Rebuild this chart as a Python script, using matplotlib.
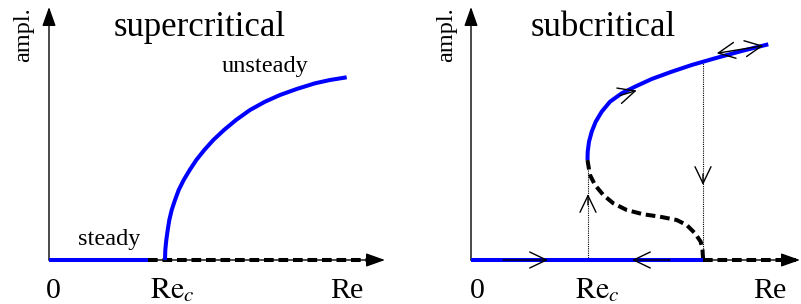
import matplotlib
matplotlib.use("Agg")
import matplotlib.pyplot as plt

plt.rcParams['font.family'] = ['Liberation Serif', 'DejaVu Serif']
plt.rcParams['mathtext.fontset'] = 'stix'

# ---------------- data (panel units: origin at axes crossing) ----------------
# supercritical panel
sup_steady_x = [0, 99]
sup_steady_y = [0, 0]
sup_unstable_x = [99, 331]
sup_unstable_y = [0, 0]
sup_branch_x = [116, 116.3, 117.3, 118.7, 120.3, 122.7, 126, 129.7, 134.7, 140.7, 147.3,
                155.3, 164.3, 175, 187, 201, 216, 231, 247.7, 266, 281, 297.7]
sup_branch_y = [0, 10, 20, 30, 40, 50, 60, 70, 80, 90, 100,
                110, 120, 130, 140, 150, 158.3, 165, 171, 176.7, 180, 182.7]

# subcritical panel
sub_steady_x = [0, 232]
sub_steady_y = [0, 0]
sub_unstable_base_x = [232, 325]
sub_unstable_base_y = [0, 0]
sub_upper_x = [116.5, 116.7, 118, 120.7, 124.7, 130.7, 139, 150.7, 164, 180.7, 200.7,
               220.7, 244, 270.7, 297.3]
sub_upper_y = [100, 108.3, 118.3, 128.3, 138.3, 148.3, 158.3, 166.7, 173.3, 181, 188.3,
               195, 201.7, 209, 215.7]
sub_lower_x = [116.5, 117.3, 119, 124, 132.3, 142.3, 155.7, 172.3, 189, 205.7, 215.7,
               224, 229.7, 231.5, 232, 232]
sub_lower_y = [100, 95, 85, 75, 65, 56.7, 50, 45.7, 43.3, 40, 35,
               26.7, 18.3, 10, 2, 0]
sub_jump_up_x = 117
sub_jump_up_top = 90
sub_jump_down_x = 232
sub_jump_down_top = 197

titles = ["supercritical", "subcritical"]
xlabels = ["0", r"$\mathrm{Re}_c$", "Re"]

BLUE = "#0000ff"

fig = plt.figure(figsize=(8.01, 3.04), dpi=100)
ax1 = fig.add_axes([0, 0, 1, 1])
ax2 = fig.add_axes([0, 0, 1, 1])
ax1.set_xlim(-49, 801 - 49)
ax1.set_ylim(-44, 260)
ax2.set_xlim(-471, 801 - 471)
ax2.set_ylim(-44, 260)
for ax in (ax1, ax2):
    ax.axis('off')
    ax.patch.set_alpha(0)


def axis_arrows(ax, xtip, ytip):
    style = '-|>,head_length=0.9,head_width=0.32'
    for tip in ((xtip, 0), (0, ytip)):
        ax.annotate('', xy=tip, xytext=(0, 0),
                    arrowprops=dict(arrowstyle=style, lw=1.0, color='black',
                                    shrinkA=0, shrinkB=0, mutation_scale=13),
                    zorder=1)


def open_arrow(ax, start, end, both=False):
    style = '<->' if both else '->'
    ax.annotate('', xy=end, xytext=start,
                arrowprops=dict(arrowstyle=style + ',head_length=0.75,head_width=0.36',
                                lw=1.0, color='black', shrinkA=0, shrinkB=0,
                                mutation_scale=16),
                zorder=5)


LW = 2.9
DASH = (2.4, 1.2)

# ---------------- supercritical ----------------
axis_arrows(ax1, 336, 253)
ax1.plot(sup_unstable_x, sup_unstable_y, color='black', lw=LW, dashes=DASH,
         solid_capstyle='butt', zorder=2)
ax1.plot(sup_steady_x, sup_steady_y, color=BLUE, lw=LW, solid_capstyle='butt', zorder=3)
ax1.plot(sup_branch_x, sup_branch_y, color=BLUE, lw=LW, solid_capstyle='butt',
         solid_joinstyle='round', zorder=3)

ax1.text(151, 224, titles[0], fontsize=25, ha='center', va='baseline')
ax1.text(216, 188, "unsteady", fontsize=17.5, ha='center', va='baseline')
ax1.text(60, 15, "steady", fontsize=17.5, ha='center', va='baseline')
ax1.text(-25, 225, "ampl.", fontsize=17.5, ha='center', va='center', rotation=90)
ax1.text(4, -38, xlabels[0], fontsize=21.6, ha='center', va='baseline')
ax1.text(123, -38, xlabels[1], fontsize=21.6, ha='center', va='baseline')
ax1.text(298, -38, xlabels[2], fontsize=21.6, ha='center', va='baseline')

# ---------------- subcritical ----------------
axis_arrows(ax2, 329, 253)
ax2.plot([sub_jump_up_x, sub_jump_up_x], [0, sub_jump_up_top], color='black', lw=0.8,
         dashes=(1, 1), zorder=1.5)
ax2.plot([sub_jump_down_x, sub_jump_down_x], [0, sub_jump_down_top], color='black', lw=0.8,
         dashes=(1, 1), zorder=1.5)
ax2.plot(sub_unstable_base_x, sub_unstable_base_y, color='black', lw=LW, dashes=DASH,
         solid_capstyle='butt', zorder=2)
ax2.plot(sub_lower_x, sub_lower_y, color='black', lw=LW, dashes=DASH,
         solid_capstyle='butt', zorder=2)
ax2.plot(sub_steady_x, sub_steady_y, color=BLUE, lw=LW, solid_capstyle='butt', zorder=3)
ax2.plot(sub_upper_x, sub_upper_y, color=BLUE, lw=LW, solid_capstyle='butt',
         solid_joinstyle='round', zorder=3)

# hysteresis arrows
open_arrow(ax2, (32, 0), (77, 0))
open_arrow(ax2, (199, 0), (161, 0))
open_arrow(ax2, (sub_jump_up_x, 55), (sub_jump_up_x, 66))
open_arrow(ax2, (sub_jump_down_x, 86), (sub_jump_down_x, 75))
open_arrow(ax2, (149, 164.5), (165.7, 169.5))
open_arrow(ax2, (245.7, 206.7), (292.3, 214.3), both=True)

ax2.text(132, 224, titles[1], fontsize=25, ha='center', va='baseline')
ax2.text(-24, 225, "ampl.", fontsize=17.5, ha='center', va='center', rotation=90)
ax2.text(6, -38, xlabels[0], fontsize=21.6, ha='center', va='baseline')
ax2.text(126, -38, xlabels[1], fontsize=21.6, ha='center', va='baseline')
ax2.text(299, -38, xlabels[2], fontsize=21.6, ha='center', va='baseline')

fig.savefig("out.png", dpi=100)
